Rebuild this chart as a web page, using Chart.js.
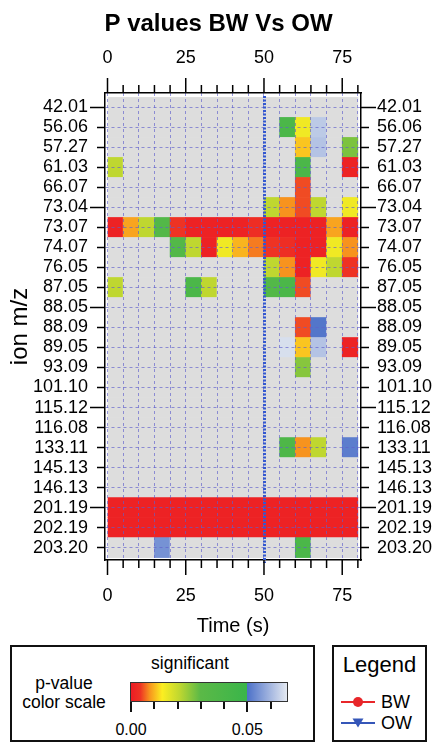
<!DOCTYPE html>
<html>
<head>
<meta charset="utf-8">
<script src="https://cdn.jsdelivr.net/npm/chart.js@4/dist/chart.umd.min.js"></script>
<style>
html,body{margin:0;padding:0;background:#fff;}
body{width:437px;height:743px;position:relative;overflow:hidden;font-family:"Liberation Sans",Arial,Helvetica,sans-serif;color:#000;}
#wrap{position:absolute;left:0;top:0;width:437px;height:640px;}
.box{position:absolute;box-sizing:border-box;border:2px solid #111;}
.t{position:absolute;white-space:nowrap;text-align:center;}
.tick{position:absolute;width:2px;background:#111;}
</style>
</head>
<body>
<div id="wrap"><canvas id="c" width="437" height="640"></canvas></div>

<div class="box" style="left:10px;top:645px;width:305px;height:97px;"></div>
<div class="box" style="left:332px;top:645px;width:95px;height:97px;"></div>
<div class="t" style="left:110px;top:652px;width:160px;font-size:17.5px;line-height:22px;">significant</div>
<div class="t" style="left:14px;top:672px;width:100px;font-size:17.5px;line-height:22px;">p-value</div>
<div class="t" style="left:14px;top:691px;width:100px;font-size:17.5px;line-height:22px;">color scale</div>
<div id="cbar" style="position:absolute;left:130px;top:682px;width:158px;height:20px;box-sizing:border-box;border:1px solid #333;"></div>
<div id="cbticks"></div>
<div class="t" style="left:332px;top:652px;width:95px;font-size:22px;line-height:26px;">Legend</div>
<svg style="position:absolute;left:340px;top:692px;" width="40" height="42">
  <line x1="1" y1="10" x2="35" y2="10" stroke="#e8262a" stroke-width="2"/>
  <circle cx="18" cy="10" r="5" fill="#e8262a"/>
  <line x1="1" y1="31" x2="35" y2="31" stroke="#3556b8" stroke-width="2"/>
  <polygon points="12.5,26.5 23.5,26.5 18,35.5" fill="#3556b8"/>
</svg>
<div class="t" style="left:381px;top:691px;text-align:left;font-size:18px;line-height:22px;">BW</div>
<div class="t" style="left:381px;top:712px;text-align:left;font-size:18px;line-height:22px;">OW</div>

<script>
// ---------------- data ----------------
const ions = ['42.01','56.06','57.27','61.03','66.07','73.04','73.07','74.07','76.05','87.05','88.05','88.09','89.05','93.09','101.10','115.12','116.08','133.11','145.13','146.13','201.19','202.19','203.20'];
const timeBins = [0,5,10,15,20,25,30,35,40,45,50,55,60,65,70,75,80];   // bin edges (s)
const timeTickLabels = [0,25,50,75];
const treatmentTime = 50;
const colorbarTicks = [0,0.01,0.02,0.03,0.04,0.05,0.06];
const colorbarLabels = [0,0.05];
const N = null; // not significant / no value
// p-values per ion (rows) and 5 s time bin (columns)
const pValues = [
  [N,N,N,N,N,N,N,N,N,N,N,N,N,N,N,N],                                   // 42.01
  [N,N,N,N,N,N,N,N,N,N,N,0.040,0.015,0.063,N,N],                        // 56.06
  [N,N,N,N,N,N,N,N,N,N,N,N,0.011,0.062,N,0.027],                        // 57.27
  [0.021,N,N,N,N,N,N,N,N,N,N,N,0.040,N,N,0.001],                        // 61.03
  [N,N,N,N,N,N,N,N,N,N,N,N,0.005,N,N,N],                                // 66.07
  [N,N,N,N,N,N,N,N,N,N,0.021,0.008,0.005,0.021,N,0.015],                // 73.04
  [0.001,0.009,0.021,0.035,0.004,0.001,0.001,0.001,0.001,0.003,0.001,0.001,0.001,0.001,0.009,0.001], // 73.07
  [N,N,N,N,0.035,0.021,0.001,0.015,0.010,0.007,0.004,0.003,0.001,0.001,0.015,0.008], // 74.07
  [N,N,N,N,N,N,N,N,N,N,0.021,0.008,0.001,0.015,0.021,0.004],            // 76.05
  [0.021,N,N,N,N,0.040,0.021,N,N,N,0.035,0.040,0.005,N,N,N],            // 87.05
  [N,N,N,N,N,N,N,N,N,N,N,N,N,N,N,N],                                   // 88.05
  [N,N,N,N,N,N,N,N,N,N,N,N,0.005,0.051,N,N],                            // 88.09
  [N,N,N,N,N,N,N,N,N,N,N,0.066,0.011,0.062,N,0.001],                    // 89.05
  [N,N,N,N,N,N,N,N,N,N,N,N,0.026,N,N,N],                                // 93.09
  [N,N,N,N,N,N,N,N,N,N,N,N,N,N,N,N],                                   // 101.10
  [N,N,N,N,N,N,N,N,N,N,N,N,N,N,N,N],                                   // 115.12
  [N,N,N,N,N,N,N,N,N,N,N,N,N,N,N,N],                                   // 116.08
  [N,N,N,N,N,N,N,N,N,N,N,0.038,0.008,0.021,N,0.052],                    // 133.11
  [N,N,N,N,N,N,N,N,N,N,N,N,N,N,N,N],                                   // 145.13
  [N,N,N,N,N,N,N,N,N,N,N,N,N,N,N,N],                                   // 146.13
  [0.001,0.001,0.001,0.001,0.001,0.001,0.001,0.001,0.001,0.001,0.001,0.001,0.001,0.001,0.001,0.001], // 201.19
  [0.001,0.001,0.001,0.001,0.001,0.001,0.001,0.001,0.001,0.001,0.001,0.001,0.001,0.001,0.001,0.001], // 202.19
  [N,N,N,0.055,N,N,N,N,N,N,N,N,0.040,N,N,N]                             // 203.20
];
// colour scale (p-value -> colour)
const colorStops = [
  [0.000,'#ec1c24'],
  [0.004,'#ee3324'],
  [0.008,'#f7931e'],
  [0.0135,'#fcee21'],
  [0.021,'#bfd730'],
  [0.030,'#5bb947'],
  [0.050,'#3ab54a'],
  [0.050,'#4a6fc8'],
  [0.0675,'#e4e9f1']
];
const nsColor = '#dddddd';

// ---------------- helpers ----------------
function hex2rgb(h){return [parseInt(h.slice(1,3),16),parseInt(h.slice(3,5),16),parseInt(h.slice(5,7),16)];}
function pColor(p){
  if (p === null) return nsColor;
  for (let i=0;i<colorStops.length-1;i++){
    const [p0,c0]=colorStops[i],[p1,c1]=colorStops[i+1];
    if (p>=p0 && p<=p1 && p1>p0){
      const t=(p-p0)/(p1-p0), a=hex2rgb(c0), b=hex2rgb(c1);
      return 'rgb('+a.map((v,k)=>Math.round(v+(b[k]-v)*t)).join(',')+')';
    }
  }
  return colorStops[colorStops.length-1][1];
}

// colour bar legend (HTML)
const cbMax = colorStops[colorStops.length-1][0];
document.getElementById('cbar').style.background =
  'linear-gradient(to right,'+colorStops.map(s=>s[1]+' '+(s[0]/cbMax*100).toFixed(2)+'%').join(',')+')';
const cbLeft=131, cbWidth=157;
const cbt=document.getElementById('cbticks');
colorbarTicks.forEach(v=>{
  const x=cbLeft+v/cbMax*cbWidth;
  const major=colorbarLabels.some(l=>Math.abs(l-v)<1e-9);
  const d=document.createElement('div');d.className='tick';
  d.style.left=(x-1)+'px';d.style.top='702px';d.style.height=(major?10:7)+'px';
  cbt.appendChild(d);
  if(major){
    const l=document.createElement('div');l.className='t';
    l.style.left=(x-30)+'px';l.style.width='60px';l.style.top='719px';
    l.style.fontSize='16px';l.style.lineHeight='22px';
    l.textContent=v.toFixed(2);cbt.appendChild(l);
  }
});

// ---------------- chart ----------------
const cells=[];
pValues.forEach((row,r)=>row.forEach((p,c)=>cells.push({x:[timeBins[c],timeBins[c+1]],y:r,p:p})));

const FONT='"Liberation Sans", Arial, Helvetica, sans-serif';
const TITLE_H = 24*1.2 + 10;
const gridStyle=()=>({color:'rgba(95,95,205,0.65)',lineWidth:1,drawTicks:false,offset:false,z:1});
const borderStyle=()=>({display:true,color:'#000',width:1.5,dash:[3,3],z:2});

function xTicks(scale){scale.ticks=timeBins.map(v=>({value:v}));}
function yTicks(scale){scale.ticks=ions.map((_,i)=>({value:i}));}

const tickMarks={
  id:'tickMarks',
  afterDraw(chart){
    const ctx=chart.ctx, a=chart.chartArea, s=chart.scales;
    ctx.save();
    // treatment reference line
    ctx.strokeStyle='#3358d0';ctx.lineWidth=3;ctx.setLineDash([2,1.5]);
    const xr=Math.round(s.x.getPixelForValue(treatmentTime))+0.5;
    ctx.beginPath();ctx.moveTo(xr,a.top+3);ctx.lineTo(xr,a.bottom+3);ctx.stroke();
    ctx.setLineDash([]);
    ctx.strokeStyle='#000';ctx.lineWidth=1.5;
    ctx.beginPath();
    timeBins.forEach(v=>{
      const L=timeTickLabels.includes(v)?15:8;
      const px=s.x.getPixelForValue(v);
      ctx.moveTo(px,a.bottom);ctx.lineTo(px,a.bottom+L);
      ctx.moveTo(px,a.top);ctx.lineTo(px,a.top-L);
    });
    ions.forEach((_,i)=>{
      const L=(i%5===0)?15:8;
      const py=s.y.getPixelForValue(i);
      ctx.moveTo(a.left,py);ctx.lineTo(a.left-L,py);
      ctx.moveTo(a.right,py);ctx.lineTo(a.right+L,py);
    });
    ctx.stroke();
    ctx.restore();
  }
};

new Chart(document.getElementById('c'),{
  type:'bar',
  data:{datasets:[{
    data:cells,
    backgroundColor:ctx=>pColor(ctx.raw ? ctx.raw.p : null),
    borderWidth:0,
    barPercentage:1,
    categoryPercentage:1
  }]},
  options:{
    indexAxis:'y',
    responsive:false,
    animation:false,
    devicePixelRatio:1,
    layout:{padding:0},
    plugins:{
      legend:{display:false},
      tooltip:{enabled:false},
      title:{display:true,text:'P values BW Vs OW',color:'#000',font:{family:FONT,size:24,weight:'bold',lineHeight:1.2},padding:{top:10,bottom:0}}
    },
    scales:{
      x:{type:'linear',position:'bottom',min:-0.8,max:81,offset:false,
        afterBuildTicks:xTicks,
        afterFit(sc){sc.height=80;},
        grid:gridStyle(),
        border:borderStyle(),
        ticks:{autoSkip:false,maxRotation:0,padding:25,color:'#000',font:{family:FONT,size:18},
          callback:v=>timeTickLabels.includes(v)?String(v):''},
        title:{display:true,text:'Time (s)',color:'#000',font:{family:FONT,size:20},padding:{top:0,bottom:2}}
      },
      x2:{type:'linear',position:'top',min:-0.8,max:81,offset:false,
        afterBuildTicks:xTicks,
        afterFit(sc){sc.height=93-TITLE_H;},
        grid:{drawOnChartArea:false,drawTicks:false,offset:false,z:1},
        border:borderStyle(),
        ticks:{autoSkip:false,maxRotation:0,padding:24,color:'#000',font:{family:FONT,size:18},
          callback:v=>timeTickLabels.includes(v)?String(v):''}
      },
      y:{type:'linear',position:'left',reverse:true,min:-0.72,max:22.62,offset:false,
        afterBuildTicks:yTicks,
        afterFit(sc){sc.width=105;},
        grid:gridStyle(),
        border:borderStyle(),
        ticks:{autoSkip:false,padding:17,color:'#000',font:{family:FONT,size:18},
          callback:v=>ions[v]},
        title:{display:true,text:'ion m/z',color:'#000',font:{family:FONT,size:24},padding:{top:6,bottom:0}}
      },
      y2:{type:'linear',position:'right',reverse:true,min:-0.72,max:22.62,offset:false,
        afterBuildTicks:yTicks,
        afterFit(sc){sc.width=76;},
        grid:{drawOnChartArea:false,drawTicks:false,offset:false,z:1},
        border:borderStyle(),
        ticks:{autoSkip:false,padding:16,color:'#000',font:{family:FONT,size:18},
          callback:v=>ions[v]}
      }
    }
  },
  plugins:[tickMarks]
});
</script>
</body>
</html>
